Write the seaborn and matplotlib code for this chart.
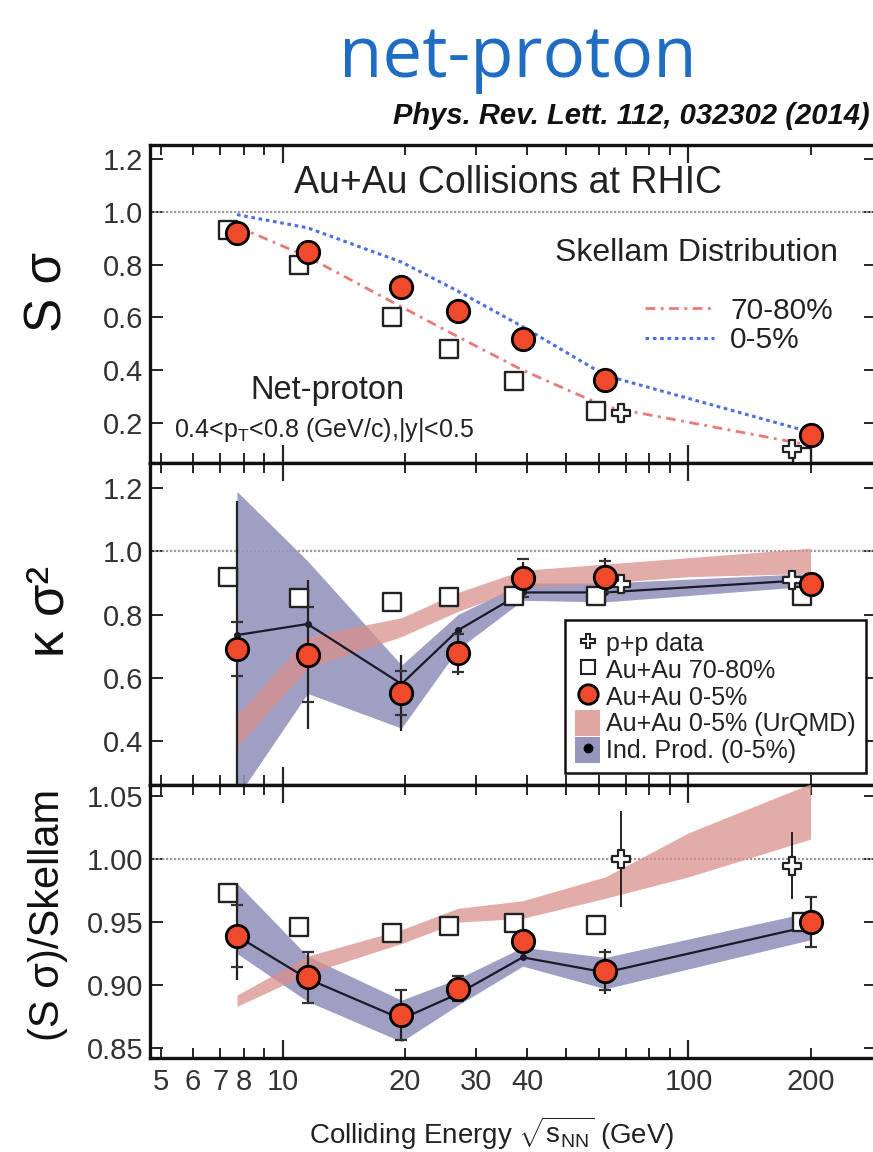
import numpy as np
import pandas as pd
import matplotlib
matplotlib.use("Agg")
import matplotlib.pyplot as plt
import seaborn as sns
from matplotlib.lines import Line2D
from matplotlib.patches import Patch
from matplotlib.ticker import FixedLocator, FuncFormatter, NullFormatter

# ---------------- data ----------------
energies = [7.7, 11.5, 19.6, 27, 39, 62.4, 200]
pp_energies = [62.4, 200]
urqmd_energies = [7.7, 11.5, 19.6, 27, 39, 62.4, 100, 200]

# S sigma
ss_central = [0.92, 0.847, 0.717, 0.626, 0.517, 0.363, 0.155]
ss_peripheral = [0.932, 0.80, 0.603, 0.479, 0.36, 0.245, 0.07]
ss_pp = [0.237, 0.10]
skellam_central = [0.99, 0.94, 0.81, 0.70, 0.565, 0.38, 0.165]
skellam_peripheral = [0.945, 0.83, 0.64, 0.527, 0.40, 0.262, 0.115]

# kappa sigma^2
ks_central = [0.69, 0.673, 0.551, 0.677, 0.915, 0.92, 0.897]
ks_central_stat = [0.47, 0.235, 0.12, 0.07, 0.05, 0.06, 0.02]
ks_central_sys = [0.085, 0.15, 0.07, 0.06, 0.06, 0.05, 0.03]
ks_peripheral = [0.92, 0.853, 0.839, 0.857, 0.86, 0.86, 0.86]
ks_pp = [0.898, 0.908]
ks_pp_err = [0.02, 0.02]
ks_ind = [0.735, 0.77, 0.58, 0.75, 0.87, 0.87, 0.91]
ks_ind_lo = [0.22, 0.55, 0.44, 0.69, 0.845, 0.84, 0.89]
ks_ind_hi = [1.19, 0.97, 0.64, 0.80, 0.90, 0.90, 0.93]
ks_urqmd_lo = [0.38, 0.63, 0.73, 0.81, 0.886, 0.90, 0.92, 0.93]
ks_urqmd_hi = [0.48, 0.73, 0.79, 0.87, 0.94, 0.96, 0.98, 1.01]

# (S sigma)/Skellam
sr_central = [0.939, 0.906, 0.876, 0.897, 0.935, 0.911, 0.95]
sr_central_stat = [0.035, 0.02, 0.02, 0.01, 0.008, 0.018, 0.02]
sr_central_sys = [0.025, 0.02, 0.02, 0.01, 0.008, 0.015, 0.02]
sr_peripheral = [0.973, 0.946, 0.941, 0.947, 0.949, 0.948, 0.95]
sr_pp = [1.0, 0.995]
sr_pp_err = [0.038, 0.027]
sr_ind = [0.939, 0.905, 0.873, 0.893, 0.922, 0.91, 0.947]
sr_ind_lo = [0.925, 0.887, 0.855, 0.884, 0.915, 0.897, 0.936]
sr_ind_hi = [0.981, 0.923, 0.888, 0.905, 0.93, 0.922, 0.958]
sr_urqmd_lo = [0.883, 0.909, 0.933, 0.950, 0.953, 0.969, 0.986, 1.016]
sr_urqmd_hi = [0.892, 0.923, 0.944, 0.961, 0.967, 0.986, 1.021, 1.06]

x_tick_labels = ["5", "6", "7", "8", "10", "20", "30", "40", "100", "200"]

# ---------------- style ----------------
sns.set_theme(style="ticks")
plt.rcParams["font.family"] = ["Liberation Sans", "DejaVu Sans"]
plt.rcParams["mathtext.fontset"] = "custom"
plt.rcParams["mathtext.rm"] = "Liberation Sans"
plt.rcParams["mathtext.it"] = "Liberation Sans:italic"

RED = "#ee4a2b"
BAND_BLUE = "#9595bd"
BAND_PINK = "#d9908b"
TXT = "#222222"
W, H = 873, 1152

fig = plt.figure(figsize=(W / 100, H / 100), dpi=100)

def fx(px):
    return px / W

def fy(py):
    return 1 - py / H

left, right = 150, 876
ax1 = fig.add_axes([fx(left), fy(463), fx(right - left), fy(145) - fy(463)])
ax2 = fig.add_axes([fx(left), fy(785), fx(right - left), fy(463) - fy(785)])
ax3 = fig.add_axes([fx(left), fy(1058), fx(right - left), fy(785) - fy(1058)])

shift_sq = 0.95
pp_shift = [1.09, 0.9]

def energies_shift(e, f):
    return [a * b for a, b in zip(e, f)] if isinstance(f, list) else [a * f for a in e]

def draw_markers(ax, central, peripheral, pp, central_stat=None, central_sys=None, pp_err=None):
    x_sq = energies_shift(energies, shift_sq)
    x_pp = energies_shift(pp_energies, pp_shift)
    if central_stat is not None:
        ax.errorbar(energies, central, yerr=central_stat, fmt="none", ecolor="#222222",
                    elinewidth=1.6, capsize=0, zorder=6)
    if central_sys is not None:
        ax.errorbar(energies, central, yerr=central_sys, fmt="none", ecolor="#333333",
                    elinewidth=0, capsize=4.5, capthick=1.6, zorder=6)
    if pp_err is not None:
        ax.errorbar(x_pp, pp, yerr=pp_err, fmt="none", ecolor="#222222",
                    elinewidth=1.4, capsize=0, zorder=6)
    sns.scatterplot(x=x_sq, y=peripheral, marker="s", s=150, facecolor="white",
                    edgecolor="#222222", linewidth=1.7, ax=ax, zorder=7)
    sns.scatterplot(x=x_pp, y=pp, marker="P", s=150, facecolor="white",
                    edgecolor="#222222", linewidth=1.6, ax=ax, zorder=7)
    sns.scatterplot(x=energies, y=central, marker="o", s=260, facecolor=RED,
                    edgecolor="black", linewidth=2.0, ax=ax, zorder=8)

def draw_bands(ax, ind, lo, hi, ulo, uhi):
    ax.fill_between(energies, lo, hi, color=BAND_BLUE, alpha=0.9, lw=0, zorder=2)
    ax.fill_between(urqmd_energies, ulo, uhi, color=BAND_PINK, alpha=0.75, lw=0, zorder=3)
    sns.lineplot(x=energies, y=ind, color="#1a1a2a", lw=1.6, ax=ax, zorder=5,
                 marker="o", markersize=5, markeredgewidth=0, estimator=None, sort=False)

# ---- top panel ----
l1, = ax1.plot(energies, skellam_peripheral, color="#e87a78", lw=2.0,
               ls=(0, (3.5, 2, 1, 2)), zorder=3)
l2, = ax1.plot(energies, skellam_central, color="#4e70e0", lw=2.2,
               ls=(0, (1.2, 1.2)), zorder=3)
draw_markers(ax1, ss_central, ss_peripheral, ss_pp)
ax1.set_ylim(0.048, 1.254)
ax1.set_yticks([0.2, 0.4, 0.6, 0.8, 1.0, 1.2])
ax1.set_yticklabels(["0.2", "0.4", "0.6", "0.8", "1.0", "1.2"])

# ---- middle panel ----
draw_bands(ax2, ks_ind, ks_ind_lo, ks_ind_hi, ks_urqmd_lo, ks_urqmd_hi)
draw_markers(ax2, ks_central, ks_peripheral, ks_pp, ks_central_stat, ks_central_sys, ks_pp_err)
ax2.set_ylim(0.26, 1.28)
ax2.set_yticks([0.4, 0.6, 0.8, 1.0, 1.2])
ax2.set_yticklabels(["0.4", "0.6", "0.8", "1.0", "1.2"])

# ---- bottom panel ----
draw_bands(ax3, sr_ind, sr_ind_lo, sr_ind_hi, sr_urqmd_lo, sr_urqmd_hi)
draw_markers(ax3, sr_central, sr_peripheral, sr_pp, sr_central_stat, sr_central_sys, sr_pp_err)
ax3.set_ylim(0.842, 1.059)
ax3.set_yticks([0.85, 0.90, 0.95, 1.00, 1.05])
ax3.set_yticklabels(["0.85", "0.90", "0.95", "1.00", "1.05"])

minor_pos = [5, 6, 7, 8, 9, 20, 30, 40, 50, 60, 70, 80, 90, 200, 300]
for ax in (ax1, ax2, ax3):
    ax.set_xscale("log")
    ax.set_xlim(4.7, 290)
    ax.axhline(1.0, color="#9a9a9a", lw=1.6, ls=(0, (1, 0.8)), zorder=1)
    ax.xaxis.set_major_locator(FixedLocator([10, 100]))
    ax.xaxis.set_minor_locator(FixedLocator(minor_pos))
    ax.tick_params(axis="x", which="major", direction="in", length=13, width=1.6,
                   top=True, bottom=True)
    ax.tick_params(axis="x", which="minor", direction="in", length=7, width=1.4,
                   top=True, bottom=True)
    ax.tick_params(axis="y", which="major", direction="in", length=9, width=1.4,
                   left=True, right=True, labelsize=21, labelcolor="#333333", pad=5)
    for s in ax.spines.values():
        s.set_linewidth(2.4)
        s.set_color("#111111")
    ax.set_xlabel("")
    ax.set_ylabel("")
    if ax is not ax3:
        ax.xaxis.set_major_formatter(NullFormatter())
        ax.xaxis.set_minor_formatter(NullFormatter())

labelled = {5, 6, 7, 8, 20, 30, 40, 200}
lab_map = {float(t): t for t in x_tick_labels}
ax3.xaxis.set_major_formatter(FuncFormatter(lambda v, p: lab_map.get(float(v), "")))
ax3.xaxis.set_minor_formatter(FuncFormatter(
    lambda v, p: lab_map.get(float(round(v)), "") if round(v) in labelled else ""))
ax3.tick_params(axis="x", which="both", labelsize=21, labelcolor="#333333", pad=7)

# ---- texts ----
fig.text(fx(518), fy(58), "net-proton", color="#1f6cc2", fontsize=51,
         ha="center", va="center", family=["Open Sans", "DejaVu Sans"])
fig.text(fx(870), fy(116), "Phys. Rev. Lett. 112, 032302 (2014)", fontsize=21,
         fontweight="bold", fontstyle="italic", ha="right", va="center", color="#111111")
fig.text(fx(508), fy(183), "Au+Au Collisions at RHIC", fontsize=27, ha="center",
         va="center", color=TXT)
fig.text(fx(555), fy(253), "Skellam Distribution", fontsize=23, ha="left",
         va="center", color=TXT)
fig.text(fx(327), fy(390), "Net-proton", fontsize=23.5, ha="center", va="center",
         color=TXT)
fig.text(fx(174), fy(430), r"0.4<p$_{\rm T}$<0.8 (GeV/c),|y|<0.5", fontsize=18,
         ha="left", va="center", color=TXT)

leg1 = ax1.legend([l1, l2], ["70-80%", "0-5%"], loc="upper left",
                  bbox_to_anchor=(fx(630), fy(282)), bbox_transform=fig.transFigure,
                  frameon=False, fontsize=21.5, handlelength=2.3, handletextpad=0.55,
                  labelspacing=0.05, borderpad=0, labelcolor=TXT)

handles = [
    Line2D([], [], marker="P", ls="none", markersize=10, markerfacecolor="white",
           markeredgecolor="#222222", markeredgewidth=1.5),
    Line2D([], [], marker="s", ls="none", markersize=10, markerfacecolor="white",
           markeredgecolor="#222222", markeredgewidth=1.5),
    Line2D([], [], marker="o", ls="none", markersize=14, markerfacecolor=RED,
           markeredgecolor="black", markeredgewidth=2),
    Patch(facecolor=BAND_PINK, alpha=0.8, edgecolor="none"),
    (Patch(facecolor=BAND_BLUE, edgecolor="none"),
     Line2D([], [], marker="o", ls="none", markersize=6, color="black")),
]
labels = ["p+p data", "Au+Au 70-80%", "Au+Au 0-5%", "Au+Au 0-5% (UrQMD)",
          "Ind. Prod. (0-5%)"]
leg2 = ax2.legend(handles, labels, loc="upper left", bbox_to_anchor=(fx(565), fy(620)),
                  bbox_transform=fig.transFigure, fontsize=18, handlelength=1.0,
                  handleheight=1.2, handletextpad=0.25, labelspacing=0.02,
                  borderpad=0.4, borderaxespad=0, fancybox=False, framealpha=1,
                  edgecolor="#111111", labelcolor=TXT)
leg2.get_frame().set_linewidth(1.8)
leg2.set_zorder(20)

fig.text(fx(48), fy(292), "S σ", fontsize=37, rotation=90, ha="center",
         va="center", color="#111111")
fig.text(fx(50), fy(611), "κ σ²", fontsize=38, rotation=90, ha="center",
         va="center", color="#111111")
fig.text(fx(48), fy(915), "(S σ)/Skellam", fontsize=30, rotation=90,
         ha="center", va="center", color="#111111")
fig.text(fx(492), fy(1133), r"Colliding Energy $\sqrt{\mathrm{s}_{\rm NN}}$ (GeV)",
         fontsize=20, ha="center", va="center", color=TXT)

fig.savefig("out.png", dpi=100)
